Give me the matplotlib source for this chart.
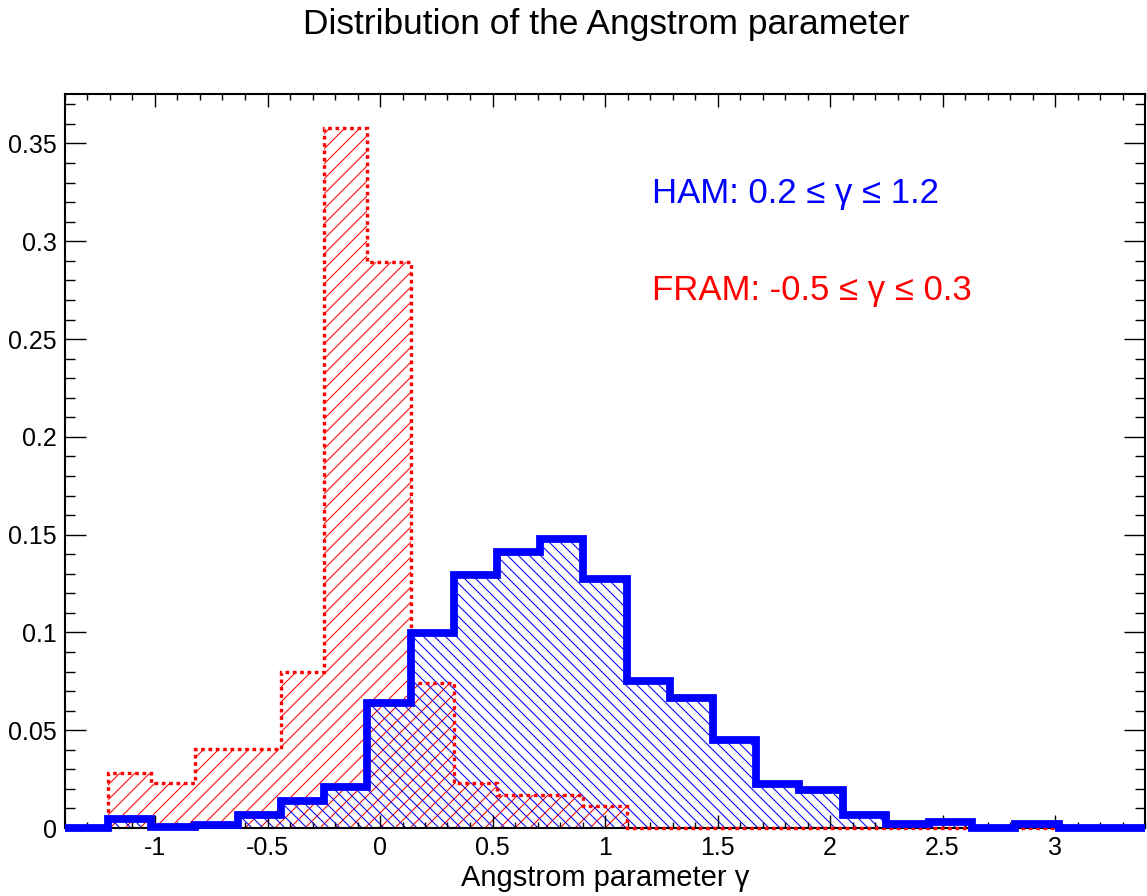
import numpy as np
import matplotlib
matplotlib.use("Agg")
import matplotlib.pyplot as plt
from matplotlib.collections import LineCollection
from matplotlib.transforms import IdentityTransform
from matplotlib.ticker import MultipleLocator, FuncFormatter

plt.rcParams['font.family'] = ['Liberation Sans', 'DejaVu Sans']
plt.rcParams['axes.unicode_minus'] = False

# ---- data -------------------------------------------------------------
x_min, x_max, n_bins = -1.4, 3.4, 25
bin_edges = np.linspace(x_min, x_max, n_bins + 1)

ham_values = [0.0, 0.0048, 0.0005, 0.0015, 0.0066, 0.0136, 0.0210, 0.0637,
              0.0997, 0.1293, 0.1410, 0.1477, 0.1273, 0.0753, 0.0666, 0.0450,
              0.0225, 0.0194, 0.0066, 0.0019, 0.0032, 0.0, 0.0022, 0.0, 0.0]
fram_values = [0.0, 0.0282, 0.0228, 0.0402, 0.0402, 0.0796, 0.3577, 0.2892,
               0.0740, 0.0228, 0.0169, 0.0169, 0.0114, 0.0, 0.0, 0.0, 0.0,
               0.0, 0.0, 0.0, 0.0, 0.0, 0.0, 0.0, 0.0]

title = "Distribution of the Angstrom parameter"
x_label = "Angstrom parameter γ"
ham_text = "HAM: 0.2 ≤ γ ≤ 1.2"
fram_text = "FRAM: -0.5 ≤ γ ≤ 0.3"
y_max = 0.3753

BLUE = "#0000ff"
RED = "#ff0000"

# ---- figure -------------------------------------------------------------
W, H = 1147, 896
fig = plt.figure(figsize=(W / 100, H / 100), dpi=100)
ax_l, ax_r, ax_t, ax_b = 65, 1145, 94, 828
ax = fig.add_axes([ax_l / W, 1 - ax_b / H, (ax_r - ax_l) / W, (ax_b - ax_t) / H])
ax.set_xlim(x_min, x_max)
ax.set_ylim(0, y_max)


def hatch(patch, spacing, direction, color, lw=0.75):
    """Diagonal hatch lines in pixel space, clipped to patch."""
    x0, x1 = ax_l, ax_r
    y0, y1 = H - ax_b, H - ax_t
    segs = []
    if direction > 0:
        c = y0 - x1
        while c <= y1 - x0:
            segs.append([(x0, x0 + c), (x1, x1 + c)])
            c += spacing
    else:
        c = x0 + y0
        while c <= x1 + y1:
            segs.append([(x0, c - x0), (x1, c - x1)])
            c += spacing
    lc = LineCollection(segs, colors=color, linewidths=lw,
                        transform=IdentityTransform(), zorder=1.5)
    lc.set_clip_path(patch)
    ax.add_collection(lc, autolim=False)


# FRAM (red)
fram_shape = ax.stairs(fram_values, bin_edges, fill=True, facecolor='none',
                       edgecolor='none', linewidth=0)
hatch(fram_shape, 15, +1, RED)
ax.stairs(fram_values, bin_edges, color=RED, linewidth=2.4,
          linestyle=(0, (1.1, 1.1)), zorder=2.6, clip_on=False)

# HAM (blue)
ham_shape = ax.stairs(ham_values, bin_edges, fill=True, facecolor='none',
                      edgecolor='none', linewidth=0)
hatch(ham_shape, 11, -1, BLUE)
ax.stairs(ham_values, bin_edges, color=BLUE, linewidth=5.6, zorder=3,
          clip_on=False, baseline=None)

# ---- axes styling ------------------------------------------------------
for s in ax.spines.values():
    s.set_linewidth(1.5)
ax.xaxis.set_major_locator(MultipleLocator(0.5))
ax.xaxis.set_minor_locator(MultipleLocator(0.1))
ax.yaxis.set_major_locator(MultipleLocator(0.05))
ax.yaxis.set_minor_locator(MultipleLocator(0.01))
fmt = FuncFormatter(lambda v, p: "%g" % round(v, 3))
ax.xaxis.set_major_formatter(fmt)
ax.yaxis.set_major_formatter(fmt)
ax.tick_params(which='both', direction='in', top=True, right=True, width=1.0,
               colors='black')
ax.tick_params(axis='x', which='major', length=9.4, labelsize=18, pad=6)
ax.tick_params(axis='x', which='minor', length=4.3)
ax.tick_params(axis='y', which='major', length=15, labelsize=18, pad=6)
ax.tick_params(axis='y', which='minor', length=7.2)

# ---- texts ---------------------------------------------------------------
fig.text(606 / W, 1 - 34 / H, title, ha='center', va='baseline', fontsize=25.5)
fig.text(605 / W, 1 - 886 / H, x_label, ha='center', va='baseline', fontsize=21)
ax.text(1.209, 0.3195, ham_text, color=BLUE, fontsize=25, va='baseline')
ax.text(1.209, 0.2700, fram_text, color=RED, fontsize=25, va='baseline')

fig.savefig("out.png", dpi=100)
